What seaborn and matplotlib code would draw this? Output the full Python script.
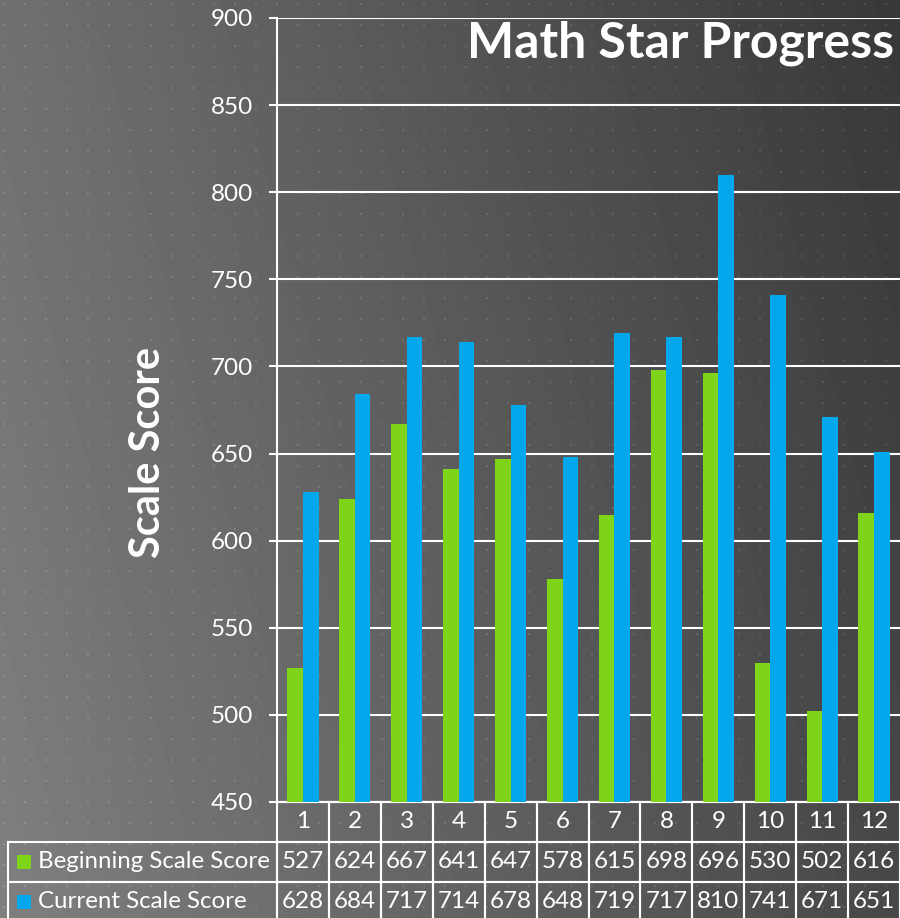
import numpy as np
import pandas as pd
import seaborn as sns
import matplotlib.pyplot as plt
from matplotlib.patches import Rectangle

weeks = ['1', '2', '3', '4', '5', '6', '7', '8', '9', '10', '11', '12']
beginning = [527, 624, 667, 641, 647, 578, 615, 698, 696, 530, 502, 616]
current = [628, 684, 717, 714, 678, 648, 719, 717, 810, 741, 671, 651]
series_names = ['Beginning Scale Score', 'Current Scale Score']
series_colors = ['#7fd319', '#02a7ec']
yticks = [450, 500, 550, 600, 650, 700, 750, 800, 850, 900]

df = pd.DataFrame({
    'week': weeks * 2,
    'series': [series_names[0]] * len(weeks) + [series_names[1]] * len(weeks),
    'score': beginning + current,
})

sns.set_style('white')
plt.rcParams['font.family'] = ['Lato', 'DejaVu Sans']

W, H = 900, 918
fig = plt.figure(figsize=(W / 100, H / 100), dpi=100)

# gradient background with dot pattern
yy, xx = np.mgrid[0:H, 0:W]
bg = 0.50 - 0.22 * (xx / W) - 0.06 * (1 - yy / H)
dots = ((xx - 3) % 21 < 2) & ((yy - 3) % 21 < 2)
bg = bg + dots * 0.07
bg_ax = fig.add_axes([0, 0, 1, 1], zorder=-1)
bg_ax.imshow(bg, cmap='gray', vmin=0, vmax=1, aspect='auto', interpolation='nearest')
bg_ax.axis('off')

ax = fig.add_axes([277 / W, 1 - 802 / H, 623 / W, 784 / H])
ax.set_facecolor('none')

sns.barplot(data=df, x='week', y='score', hue='series', palette=series_colors,
            width=0.6, gap=0, saturation=1, legend=False, ax=ax, zorder=3,
            linewidth=0, edgecolor='none')

ax.set_ylim(450, 900)
ax.set_xlim(-0.5, 11.5)
ax.set_yticks(yticks)
ax.set_yticklabels([str(t) for t in yticks], color='white', fontsize=17.5)
ax.set_xticks([])
ax.set_xlabel('')
ax.set_ylabel('')
ax.tick_params(axis='y', length=6, width=1.5, color='white', pad=11, left=True)
ax.grid(axis='y', color='white', linewidth=1.5, zorder=1)
ax.set_axisbelow(True)
for side in ['top', 'right']:
    ax.spines[side].set_visible(False)
for side in ['left', 'bottom']:
    ax.spines[side].set_color('white')
    ax.spines[side].set_linewidth(1.5)

ax.text(0.99, 0.997, 'Math Star Progress', transform=ax.transAxes, ha='right', va='top',
        color='white', fontsize=36, fontweight='bold')
fig.text(148 / W, 1 - 452 / H, 'Scale Score', rotation=90, ha='center', va='center',
         color='white', fontsize=30, fontweight='bold')

# data table under the chart
cell_text = [[series_names[0]] + [str(v) for v in beginning],
             [series_names[1]] + [str(v) for v in current]]
col_widths = [269] + [623 / 12] * 12
tbl = ax.table(cellText=cell_text, colLabels=[''] + weeks, cellLoc='center',
               colWidths=col_widths,
               bbox=[-269 / 623, -120 / 784, 892 / 623, 120 / 784])
tbl.auto_set_font_size(False)
tbl.set_fontsize(17.5)
for (r, c), cell in tbl.get_celld().items():
    cell.set_facecolor('none')
    cell.set_edgecolor('white')
    cell.set_linewidth(1.5)
    cell.get_text().set_color('white')
    if r == 0 and c == 0:
        cell.visible_edges = ''
    if c == 0 and r > 0:
        cell._loc = 'left'
        cell.PAD = 0.11
        cell.get_text().set_horizontalalignment('left')
        cell.get_text().set_fontsize(17.3)

# legend keys inside the table
row_centers = [862, 902]
for color, yc in zip(series_colors, row_centers):
    fig.add_artist(Rectangle((17 / W, 1 - (yc + 7) / H), 14 / W, 14 / H,
                             transform=fig.transFigure, facecolor=color, edgecolor='none'))

fig.savefig('out.png', dpi=100)
